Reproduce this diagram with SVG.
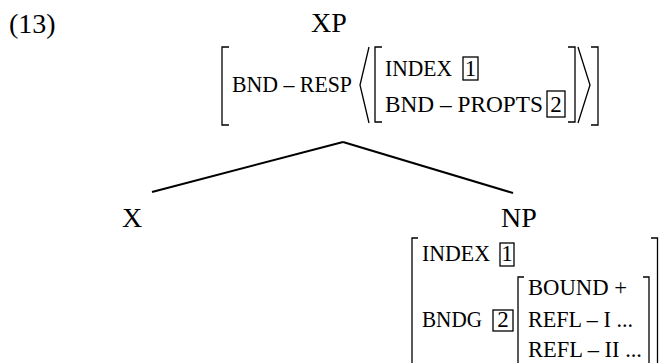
<svg xmlns="http://www.w3.org/2000/svg" width="659" height="363" viewBox="0 0 659 363">
<style>
  text { font-family: "Liberation Serif", "Times New Roman", serif; fill: #000; }
  .cat { font-size: 28px; }
  .num { font-size: 28px; }
  .avm { font-size: 24px; }
  .tag { font-size: 23px; text-anchor: middle; }
  .br { fill: none; stroke: #000; stroke-width: 1.3; }
  .box { fill: none; stroke: #000; stroke-width: 1.3; }
  .edge { stroke: #000; stroke-width: 2; fill: none; }
</style>
<rect width="659" height="363" fill="#fff"/>
<text class="num" x="9" y="33">(13)</text>
<g id="connectors">
  <line class="edge" x1="343" y1="142" x2="152" y2="192"/>
  <line class="edge" x1="343" y1="142" x2="513" y2="193"/>
</g>
<g id="node-XP">
  <text class="cat" x="311" y="32">XP</text>
  <path class="br" d="M229 47 H222 V125 H229"/>
  <text class="avm" x="232" y="92" textLength="120" lengthAdjust="spacingAndGlyphs">BND – RESP</text>
  <path class="br" d="M369 47 L360 85 L369 123"/>
  <path class="br" d="M382 47 H375 V122 H382"/>
  <text class="avm" x="385" y="76" textLength="67" lengthAdjust="spacingAndGlyphs">INDEX</text>
  <rect class="box" x="463" y="57" width="15" height="23"/>
  <text class="tag" x="470.5" y="76">1</text>
  <text class="avm" x="385" y="112" textLength="158" lengthAdjust="spacingAndGlyphs">BND – PROPTS</text>
  <rect class="box" x="547" y="91" width="18" height="26"/>
  <text class="tag" x="556" y="112">2</text>
  <path class="br" d="M568 47 H575 V122 H568"/>
  <path class="br" d="M578 47 L590 85 L578 123"/>
  <path class="br" d="M591 47 H598 V125 H591"/>
</g>
<g id="node-X">
  <text class="cat" x="122" y="227">X</text>
</g>
<g id="node-NP">
  <text class="cat" x="501" y="227">NP</text>
  <path class="br" d="M418 238 H412 V363"/>
  <path class="br" d="M651 238 H657.5 V363"/>
  <text class="avm" x="422" y="261" textLength="68" lengthAdjust="spacingAndGlyphs">INDEX</text>
  <rect class="box" x="500" y="243" width="14" height="23"/>
  <text class="tag" x="507" y="261">1</text>
  <text class="avm" x="422" y="327" textLength="60" lengthAdjust="spacingAndGlyphs">BNDG</text>
  <rect class="box" x="493" y="310" width="20" height="21"/>
  <text class="tag" x="503" y="327">2</text>
  <path class="br" d="M524 277 H518 V363"/>
  <path class="br" d="M643 277 H649 V363"/>
  <text class="avm" x="528" y="295" textLength="99" lengthAdjust="spacingAndGlyphs">BOUND +</text>
  <text class="avm" x="528" y="327" textLength="105" lengthAdjust="spacingAndGlyphs">REFL – I ...</text>
  <text class="avm" x="528" y="357" textLength="114" lengthAdjust="spacingAndGlyphs">REFL – II ...</text>
</g>
</svg>
